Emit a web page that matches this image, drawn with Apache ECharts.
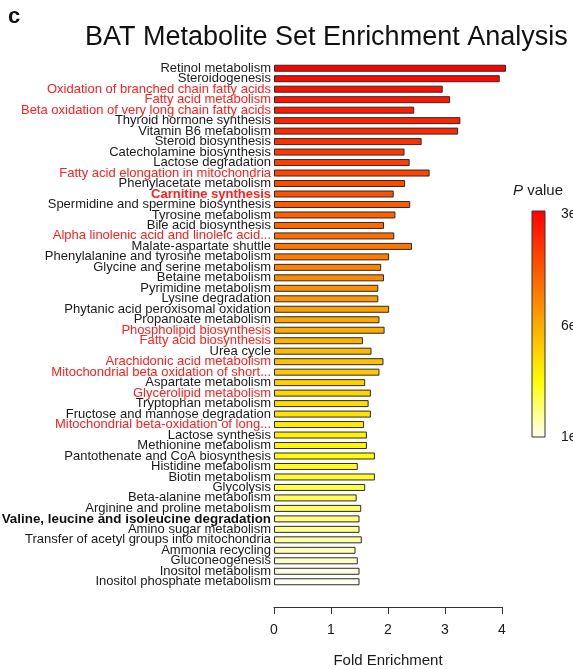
<!DOCTYPE html>
<html>
<head>
<meta charset="utf-8">
<script src="https://cdn.jsdelivr.net/npm/echarts@6/dist/echarts.min.js"></script>
<style>
    html, body { margin: 0; padding: 0; background: #fff; }
    #chart { width: 573px; height: 669px; }
</style>
</head>
<body>
<div id="chart"></div>
<script>
    // pathways, sorted by P value (top = smallest)
    var categories = [
        'Retinol metabolism', 'Steroidogenesis', 'Oxidation of branched chain fatty acids',
        'Fatty acid metabolism', 'Beta oxidation of very long chain fatty acids',
        'Thyroid hormone synthesis', 'Vitamin B6 metabolism', 'Steroid biosynthesis',
        'Catecholamine biosynthesis', 'Lactose degradation', 'Fatty acid elongation in mitochondria',
        'Phenylacetate metabolism', 'Carnitine synthesis', 'Spermidine and spermine biosynthesis',
        'Tyrosine metabolism', 'Bile acid biosynthesis', 'Alpha linolenic acid and linoleic acid...',
        'Malate-aspartate shuttle', 'Phenylalanine and tyrosine metabolism',
        'Glycine and serine metabolism', 'Betaine metabolism', 'Pyrimidine metabolism',
        'Lysine degradation', 'Phytanic acid peroxisomal oxidation', 'Propanoate metabolism',
        'Phospholipid biosynthesis', 'Fatty acid biosynthesis', 'Urea cycle',
        'Arachidonic acid metabolism', 'Mitochondrial beta oxidation of short...',
        'Aspartate metabolism', 'Glycerolipid metabolism', 'Tryptophan metabolism',
        'Fructose and mannose degradation', 'Mitochondrial beta-oxidation of long...',
        'Lactose synthesis', 'Methionine metabolism', 'Pantothenate and CoA biosynthesis',
        'Histidine metabolism', 'Biotin metabolism', 'Glycolysis', 'Beta-alanine metabolism',
        'Arginine and proline metabolism', 'Valine, leucine and isoleucine degradation',
        'Amino sugar metabolism', 'Transfer of acetyl groups into mitochondria',
        'Ammonia recycling', 'Gluconeogenesis', 'Inositol metabolism', 'Inositol phosphate metabolism'
    ];

    var foldEnrichment = [
        4.07, 3.96, 2.96, 3.09, 2.46, 3.27, 3.23, 2.59, 2.29, 2.38,
        2.73, 2.30, 2.10, 2.39, 2.13, 1.93, 2.11, 2.42, 2.02, 1.88,
        1.93, 1.83, 1.83, 2.02, 1.85, 1.94, 1.56, 1.71, 1.92, 1.85,
        1.60, 1.70, 1.66, 1.70, 1.58, 1.63, 1.63, 1.77, 1.47, 1.77,
        1.60, 1.45, 1.53, 1.50, 1.50, 1.54, 1.43, 1.47, 1.50, 1.50
    ];

    var redLabels = [
        'Oxidation of branched chain fatty acids', 'Fatty acid metabolism',
        'Beta oxidation of very long chain fatty acids', 'Fatty acid elongation in mitochondria',
        'Carnitine synthesis', 'Alpha linolenic acid and linoleic acid...',
        'Phospholipid biosynthesis', 'Fatty acid biosynthesis', 'Arachidonic acid metabolism',
        'Mitochondrial beta oxidation of short...', 'Glycerolipid metabolism',
        'Mitochondrial beta-oxidation of long...'
    ];
    var boldLabels = ['Carnitine synthesis', 'Valine, leucine and isoleucine degradation'];

    var pValueLabels = ['3e', '6e', '1e'];

    var FONT = '"Liberation Sans", Arial, Helvetica, sans-serif';
    var heat = ['#ff0000', '#ff5400', '#ffa900', '#fffd00', '#fffff5'];

    var barData = foldEnrichment.map(function (v, i) { return [v, i]; });

    var myChart = echarts.init(document.getElementById('chart'));
    var option = {
        backgroundColor: '#fff',
        animation: false,
        textStyle: { fontFamily: FONT },
        grid: { left: 274, width: 228, top: 63, height: 524, containLabel: false, outerBoundsMode: 'none' },
        visualMap: {
            show: false,
            type: 'continuous',
            dimension: 1,
            min: 0,
            max: categories.length - 1,
            inRange: { color: heat }
        },
        xAxis: {
            type: 'value',
            min: 0,
            max: 4,
            interval: 1,
            offset: 20,
            name: 'Fold Enrichment',
            nameLocation: 'middle',
            nameGap: 46,
            nameTextStyle: { fontSize: 15, color: '#1a1a1a', fontFamily: FONT },
            axisLine: { show: true, lineStyle: { color: '#333', width: 1 } },
            axisTick: { show: true, length: 7, lineStyle: { color: '#333' } },
            axisLabel: { fontSize: 14, color: '#1a1a1a', margin: 16, fontFamily: FONT },
            splitLine: { show: false }
        },
        yAxis: {
            type: 'category',
            data: categories,
            inverse: true,
            axisLine: { show: false },
            axisTick: { show: false },
            axisLabel: {
                interval: 0,
                margin: 3,
                fontSize: 13,
                color: '#1a1a1a',
                fontFamily: FONT,
                formatter: function (name) {
                    var red = redLabels.indexOf(name) >= 0;
                    var bold = boldLabels.indexOf(name) >= 0;
                    if (red && bold) return '{rb|' + name + '}';
                    if (red) return '{r|' + name + '}';
                    if (bold) return '{b|' + name + '}';
                    return '{n|' + name + '}';
                },
                rich: {
                    n: { fontSize: 13, color: '#1a1a1a', fontFamily: FONT, lineHeight: 13 },
                    r: { fontSize: 13, color: '#ff2020', fontFamily: FONT, lineHeight: 13 },
                    rb: { fontSize: 13, color: '#ff2020', fontWeight: 'bold', fontFamily: FONT, lineHeight: 13 },
                    b: { fontSize: 13.4, color: '#111', fontWeight: 'bold', fontFamily: FONT, lineHeight: 13 }
                }
            },
            splitLine: { show: false }
        },
        series: [
            {
                type: 'bar',
                data: barData,
                barWidth: 7,
                clip: false,
                itemStyle: { borderColor: '#2b2b2b', borderWidth: 1 }
            }
        ],
        graphic: [
            {
                type: 'text', left: 8, top: 6,
                style: { text: 'c', fill: '#111', font: 'bold 22px ' + FONT }
            },
            {
                type: 'text', x: 85, y: 38,
                style: { text: 'BAT Metabolite Set Enrichment Analysis', font: '27px ' + FONT, fill: '#111', verticalAlign: 'middle' }
            },
            {
                type: 'text', x: 513, y: 191,
                style: {
                    text: '{i|P} value', verticalAlign: 'middle', fill: '#1a1a1a',
                    rich: {
                        i: { fontStyle: 'italic', fontSize: 15, fontFamily: FONT, fill: '#1a1a1a' }
                    },
                    font: '15px ' + FONT
                }
            },
            {
                type: 'rect',
                shape: { x: 532, y: 211, width: 13, height: 226 },
                style: {
                    fill: new echarts.graphic.LinearGradient(0, 0, 0, 1, [
                        { offset: 0, color: heat[0] },
                        { offset: 0.25, color: heat[1] },
                        { offset: 0.5, color: heat[2] },
                        { offset: 0.75, color: heat[3] },
                        { offset: 1, color: heat[4] }
                    ]),
                    stroke: '#333',
                    lineWidth: 1
                }
            },
            {
                type: 'text', x: 561, y: 214,
                style: { text: pValueLabels[0], font: '14px ' + FONT, fill: '#1a1a1a', verticalAlign: 'middle' }
            },
            {
                type: 'text', x: 561, y: 326,
                style: { text: pValueLabels[1], font: '14px ' + FONT, fill: '#1a1a1a', verticalAlign: 'middle' }
            },
            {
                type: 'text', x: 561, y: 437,
                style: { text: pValueLabels[2], font: '14px ' + FONT, fill: '#1a1a1a', verticalAlign: 'middle' }
            }
        ]
    };

    option && myChart.setOption(option);
</script>
</body>
</html>
